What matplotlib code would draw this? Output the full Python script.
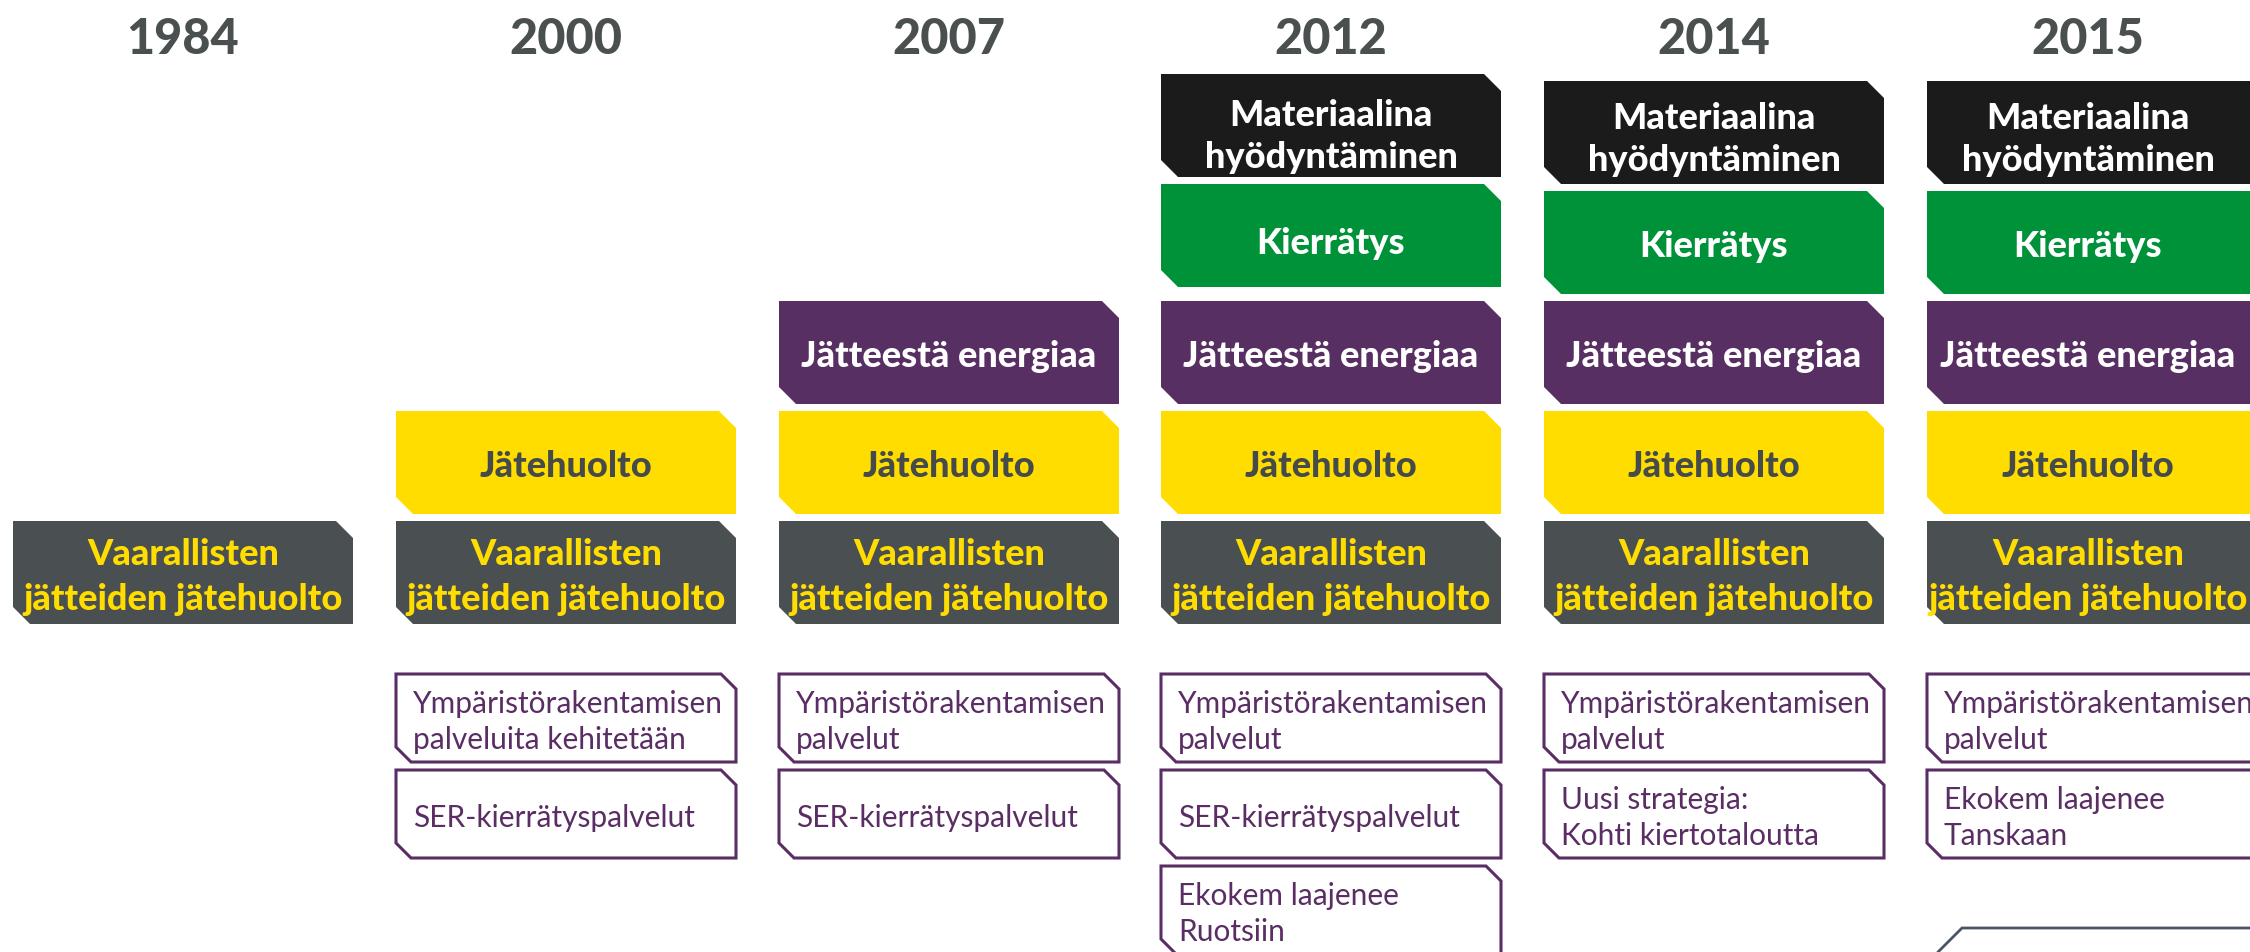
import matplotlib
matplotlib.use("Agg")
from matplotlib import pyplot as plt
from matplotlib.patches import Polygon

plt.rcParams['font.family'] = ['Lato', 'DejaVu Sans']

# timeline columns
years = ['1984', '2000', '2007', '2012', '2014', '2015']
col_left = [13, 396, 779, 1161, 1544, 1927]
n_levels = [1, 2, 3, 5, 5, 5]
upper_shift = [0, 0, 0, -7, 0, 0]   # 2012 top two boxes sit a bit higher

# stacked business areas, bottom to top
level_labels = ['Vaarallisten\njätteiden jätehuolto', 'Jätehuolto',
                'Jätteestä energiaa', 'Kierrätys', 'Materiaalina\nhyödyntäminen']
level_fill = ['#4a5051', '#ffdd00', '#582f63', '#009239', '#1b1b1b']
level_text = ['#ffdd00', '#454a4b', 'white', 'white', 'white']
level_top = [522, 412, 302, 192, 82]

# services under each year
services = [
    [],
    ['Ympäristörakentamisen\npalveluita kehitetään', 'SER-kierrätyspalvelut'],
    ['Ympäristörakentamisen\npalvelut', 'SER-kierrätyspalvelut'],
    ['Ympäristörakentamisen\npalvelut', 'SER-kierrätyspalvelut', 'Ekokem laajenee\nRuotsiin'],
    ['Ympäristörakentamisen\npalvelut', 'Uusi strategia:\nKohti kiertotaloutta'],
    ['Ympäristörakentamisen\npalvelut', 'Ekokem laajenee\nTanskaan'],
]
service_top = [675, 771, 867]

W, H = 2250, 953
box_w, box_h, svc_h = 340, 103, 88
CAP = 0.7165  # Lato cap height / em


def chamfer(x0, y0, w, h, c):
    x1, y1 = x0 + w, y0 + h
    return [(x0, y0), (x1 - c, y0), (x1, y0 + c), (x1, y1), (x0 + c, y1), (x0, y1 - c)]


def block_text(ax, x, yc, s, size, gap, **kw):
    # centre the block from first cap top to last baseline on yc
    lines = s.split('\n')
    cap = CAP * size * 100 / 72
    top = yc - (cap + (len(lines) - 1) * gap) / 2
    for k, line in enumerate(lines):
        ax.text(x, top + cap + k * gap, line, va='baseline', fontsize=size, **kw)


fig = plt.figure(figsize=(22.5, 9.53), dpi=100)
ax = fig.add_axes([0, 0, 1, 1])
ax.set_xlim(0, W)
ax.set_ylim(H, 0)
ax.axis('off')

for i, year in enumerate(years):
    x0 = col_left[i]
    cx = x0 + box_w / 2 - (9 if i == 5 else 0)
    block_text(ax, cx, 36.5, year, 35, 0, ha='center',
               fontweight='black', color='#4a4f50')

    for lv in range(n_levels[i]):
        shift = upper_shift[i] if lv >= 3 else 0
        y0 = level_top[lv] + shift
        ax.add_patch(Polygon(chamfer(x0, y0, box_w, box_h, 17), closed=True,
                             facecolor=level_fill[lv], edgecolor='none'))
        gap = 42 if lv == 4 else 45
        nudge = 4 if lv == 4 else 1
        block_text(ax, cx, level_top[lv] + shift / 2 + box_h / 2 + nudge, level_labels[lv],
                   26, gap, ha='center', fontweight='black', color=level_text[lv])

    for k, s in enumerate(services[i]):
        y0 = service_top[k]
        ax.add_patch(Polygon(chamfer(x0, y0, box_w, svc_h, 15), closed=True,
                             facecolor='white', edgecolor='#5a2d64', linewidth=2.2))
        block_text(ax, x0 + 17, y0 + svc_h / 2 + 1, s, 21.5, 36,
                   ha='left', color='#5a2d64')

# partly visible box at the bottom right
ax.plot([1938, 1938, 1962, 2260], [990, 953, 929, 929], color='#4b5366',
        linewidth=2, solid_joinstyle='miter')

fig.savefig('out.png', dpi=100)
